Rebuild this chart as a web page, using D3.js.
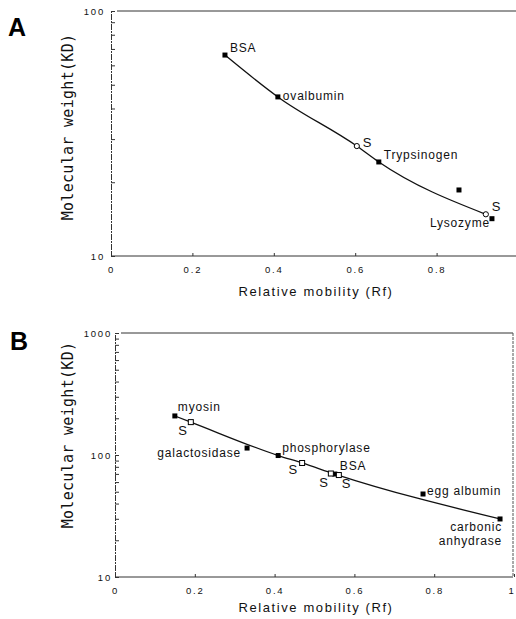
<!DOCTYPE html>
<html>
  <head>
    <meta charset="utf-8" />
    <title>Molecular weight vs relative mobility</title>
    <script src="https://d3js.org/d3.v7.min.js"></script>
    <style>
      body { margin: 0; background: white; }
      svg { display: block; background: white; }
      .lbl { font-family: "Liberation Sans", Arial, sans-serif; font-size: 12px; letter-spacing: 0.8px; fill: #111; }
      .s { font-family: "Liberation Sans", Arial, sans-serif; font-size: 13px; fill: #111; }
      .tick text { font-family: "Liberation Sans", Arial, sans-serif; font-size: 9.5px; letter-spacing: 1.8px; fill: #111; }
      .ytitle { font-family: "DejaVu Sans Mono", monospace; font-size: 15px; letter-spacing: 0.3px; fill: #111; }
      .xtitle { font-family: "Liberation Sans", Arial, sans-serif; font-size: 13px; letter-spacing: 1.6px; fill: #111; }
      .panel { font-family: "Liberation Sans", Arial, sans-serif; font-size: 25px; font-weight: bold; fill: #000; }
    </style>
  </head>
  <body>
    <svg width="516" height="619" id="chart"></svg>

    <script>
      // Panel A
      var namesA = ["BSA", "ovalbumin", "S", "Trypsinogen", "", "S", "Lysozyme"];
      var rfA = [0.280, 0.410, 0.604, 0.658, 0.855, 0.921, 0.936];
      var mwA = [66.1, 44.6, 28.1, 24.2, 18.6, 14.8, 14.2];
      var kindA = ["std", "std", "sample", "std", "std", "sample", "std"];
      var curveA = [0, 1, 2, 3, 5]; // points the drawn curve goes through
      var xTicksA = [0, 0.2, 0.4, 0.6, 0.8];
      var yLabelsA = [10, 100];

      // Panel B
      var namesB = ["myosin", "S", "galactosidase", "phosphorylase", "S", "BSA", "S", "S", "egg albumin", "carbonic anhydrase"];
      var rfB = [0.150, 0.190, 0.331, 0.409, 0.469, 0.551, 0.541, 0.561, 0.772, 0.965];
      var mwB = [209, 186, 114, 99, 86, 69.8, 70.5, 68.5, 47.9, 29.9];
      var kindB = ["std", "sample", "std", "std", "sample", "std", "sample", "sample", "std", "std"];
      var curveB = [0, 1, 3, 4, 5, 9];
      var xTicksB = [0, 0.2, 0.4, 0.6, 0.8, 1];
      var yLabelsB = [10, 100, 1000];

      // label placement (dx, dy, anchor) per point
      var placeA = [
        [5, -3, "start"], [5, 3, "start"], [6, 1, "start"], [5, -3, "start"],
        null, [6, -3, "start"], [-2, 8, "end"]
      ];
      var placeB = [
        [3, -5, "start"], [-4, 13, "end"], [-6, 9, "end"], [4, -4, "start"],
        [-5, 11, "end"], [5, -4, "start"], [-3, 13, "end"], [3, 13, "start"],
        [4, 1, "start"], [2, 12, "end"]
      ];

      var svg = d3.select("#chart");

      function drawPanel(p) {
        var x = d3.scaleLinear().domain([0, 1]).range(p.xr);
        var y = d3.scaleLog().domain(p.yd).range(p.yr);
        var g = svg.append("g");

        // frame
        g.append("line")
          .attr("x1", p.xr[0] + 6).attr("x2", p.frameRight)
          .attr("y1", p.yr[1]).attr("y2", p.yr[1])
          .attr("stroke", "#333").attr("stroke-width", 1);
        if (p.rightBorder) {
          g.append("line")
            .attr("x1", p.frameRight).attr("x2", p.frameRight)
            .attr("y1", p.yr[1]).attr("y2", p.yr[0])
            .attr("stroke", "#555").attr("stroke-width", 1)
            .attr("stroke-dasharray", "3,1");
        }

        // axes
        var xAxis = d3.axisBottom(x)
          .tickValues(p.xTicks)
          .tickSize(-3)
          .tickPadding(10)
          .tickFormat(function(d) { return d === 0 ? "0" : d === 1 ? "1" : d3.format(".1f")(d); });
        var xg = g.append("g")
          .attr("transform", "translate(0," + p.yr[0] + ")")
          .call(xAxis);
        xg.select(".domain").attr("d", "M" + p.xr[0] + ",0H" + p.frameRight);
        // last label sits right at the page edge
        xg.selectAll(".tick text")
          .filter(function(d) { return d === 1; })
          .attr("text-anchor", "end")
          .attr("dx", 1);

        var yAxis = d3.axisLeft(y)
          .tickValues(y.ticks())
          .tickSize(-4)
          .tickPadding(p.yPad)
          .tickFormat(function(d) { return p.yLabels.indexOf(d) >= 0 ? d : ""; });
        var yg = g.append("g")
          .attr("transform", "translate(" + p.xr[0] + ",0)")
          .call(yAxis);
        yg.select(".domain").attr("stroke-dasharray", "6,1,2,1");
        g.selectAll(".domain, .tick line").attr("stroke", "#333");

        // fitted curve
        var line = d3.line()
          .x(function(i) { return x(p.rf[i]); })
          .y(function(i) { return y(p.mw[i]); })
          .curve(d3.curveMonotoneX);
        g.append("path")
          .attr("d", line(p.curve))
          .attr("fill", "none")
          .attr("stroke", "#111")
          .attr("stroke-width", 1.3);

        // points
        var idx = d3.range(p.rf.length);
        g.selectAll(".std").data(idx.filter(function(i) { return p.kind[i] === "std"; }))
          .enter().append("rect")
          .attr("x", function(i) { return x(p.rf[i]) - 2.5; })
          .attr("y", function(i) { return y(p.mw[i]) - 2.5; })
          .attr("width", 5).attr("height", 5)
          .attr("fill", "#000");

        var samples = idx.filter(function(i) { return p.kind[i] === "sample"; });
        if (p.sampleShape === "circle") {
          g.selectAll(".smp").data(samples).enter().append("circle")
            .attr("cx", function(i) { return x(p.rf[i]); })
            .attr("cy", function(i) { return y(p.mw[i]); })
            .attr("r", 2.6)
            .attr("fill", "white").attr("stroke", "#000").attr("stroke-width", 1);
        } else {
          g.selectAll(".smp").data(samples).enter().append("rect")
            .attr("x", function(i) { return x(p.rf[i]) - 2.5; })
            .attr("y", function(i) { return y(p.mw[i]) - 2.5; })
            .attr("width", 5).attr("height", 5)
            .attr("fill", "white").attr("stroke", "#000").attr("stroke-width", 1);
        }

        // point labels (two-word names that wrap get one text each line)
        idx.forEach(function(i) {
          var pl = p.place[i];
          if (!pl || !p.names[i]) return;
          var parts = p.names[i] === "carbonic anhydrase" ? ["carbonic", "anhydrase"] : [p.names[i]];
          parts.forEach(function(s, k) {
            g.append("text")
              .attr("class", s === "S" ? "s" : "lbl")
              .attr("text-anchor", pl[2])
              .attr("x", x(p.rf[i]) + pl[0])
              .attr("y", y(p.mw[i]) + pl[1] + k * 14)
              .text(s);
          });
        });

        // titles
        svg.append("text").attr("class", "panel")
          .attr("x", p.tag[0]).attr("y", p.tag[1]).text(p.tagText);
        svg.append("text").attr("class", "ytitle")
          .attr("text-anchor", "middle")
          .attr("transform", "translate(" + p.ytPos[0] + "," + p.ytPos[1] + ") rotate(-90)")
          .text("Molecular weight(KD)");
        svg.append("text").attr("class", "xtitle")
          .attr("text-anchor", "middle")
          .attr("x", 316).attr("y", p.xtY)
          .text("Relative mobility (Rf)");
      }

      drawPanel({
        rf: rfA, mw: mwA, kind: kindA, names: namesA, curve: curveA, place: placeA,
        xr: [111, 518], yr: [256, 11], yd: [10, 100], frameRight: 516, rightBorder: false,
        xTicks: xTicksA, yLabels: yLabelsA, yPad: 6, sampleShape: "circle",
        tag: [8, 36], tagText: "A", ytPos: [73, 127], xtY: 296
      });

      drawPanel({
        rf: rfB, mw: mwB, kind: kindB, names: namesB, curve: curveB, place: placeB,
        xr: [115, 514], yr: [577, 333], yd: [10, 1000], frameRight: 513, rightBorder: true,
        xTicks: xTicksB, yLabels: yLabelsB, yPad: 3, sampleShape: "square",
        tag: [10, 350], tagText: "B", ytPos: [73, 435], xtY: 612
      });
    </script>
  </body>
</html>
